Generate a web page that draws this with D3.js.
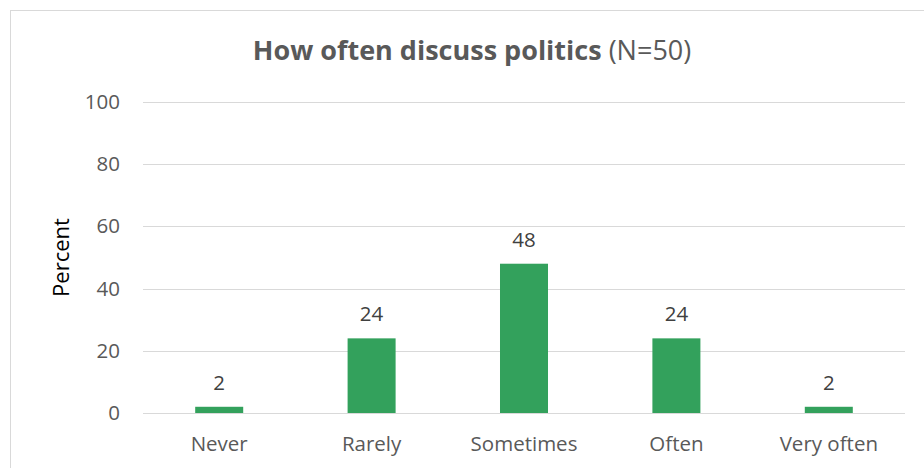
<!DOCTYPE html>
<html>
<head>
<meta charset="utf-8">
<script src="https://cdn.jsdelivr.net/npm/d3@7"></script>
<style>
  body { margin: 0; background: #fff; }
  text { font-family: "Open Sans", "Noto Sans", sans-serif; }
</style>
</head>
<body>
<script>
// chart data
const categories = ["Never", "Rarely", "Sometimes", "Often", "Very often"];
const percents   = [2, 24, 48, 24, 2];
const yTicks     = [0, 20, 40, 60, 80, 100];

const WIDTH = 924, HEIGHT = 468;
const margin = {top: 102, right: 19, bottom: 55, left: 143};
const width  = WIDTH - margin.left - margin.right;
const height = HEIGHT - margin.top - margin.bottom;

const svg = d3.select("body").append("svg")
    .attr("width", WIDTH)
    .attr("height", HEIGHT);

// outer chart border (cut at right/bottom like the reference)
svg.append("rect")
    .attr("x", 10.5).attr("y", 10.5)
    .attr("width", 930).attr("height", 480)
    .attr("fill", "none")
    .attr("stroke", "#d9d9d9");

const g = svg.append("g")
    .attr("transform", "translate(" + margin.left + "," + margin.top + ")");

const x = d3.scaleBand()
    .domain(categories)
    .range([0, width])
    .paddingInner(0.685)
    .paddingOuter(0.3425);

const y = d3.scaleLinear()
    .domain([0, 100])
    .range([height, 0]);

// gridlines
g.append("g")
    .selectAll("line")
    .data(yTicks)
    .enter().append("line")
    .attr("x1", 0).attr("x2", width)
    .attr("y1", d => Math.round(y(d)) + 0.5)
    .attr("y2", d => Math.round(y(d)) + 0.5)
    .attr("stroke", "#d9d9d9")
    .attr("stroke-width", 1.2);

// y axis labels
const yAxis = g.append("g")
    .attr("transform", "translate(-23,0)")
    .call(d3.axisLeft(y).tickValues(yTicks).tickSize(0).tickPadding(0));
yAxis.select(".domain").remove();
yAxis.selectAll("text")
    .attr("font-size", 20.5)
    .attr("fill", "#595959")
    .style("font-family", "'Open Sans', sans-serif");

// bars
g.selectAll(".bar")
    .data(percents)
    .enter().append("rect")
    .attr("class", "bar")
    .attr("x", (d, i) => x(categories[i]))
    .attr("y", d => y(d))
    .attr("width", x.bandwidth())
    .attr("height", d => y(0) - y(d))
    .attr("fill", "#33a15c");

// value labels
g.selectAll(".val")
    .data(percents)
    .enter().append("text")
    .attr("class", "val")
    .attr("x", (d, i) => x(categories[i]) + x.bandwidth() / 2)
    .attr("y", d => y(d) - 17)
    .attr("text-anchor", "middle")
    .attr("font-size", 20.5)
    .attr("fill", "#404040")
    .text(d => d);

// category axis
const xAxis = g.append("g")
    .attr("transform", "translate(0," + height + ")")
    .call(d3.axisBottom(x).tickSize(0).tickPadding(0));
xAxis.select(".domain").remove();
xAxis.selectAll("text")
    .attr("font-size", 20.5)
    .attr("fill", "#595959")
    .attr("y", 38)
    .attr("dy", 0)
    .style("font-family", "'Open Sans', sans-serif");

// y axis title
svg.append("text")
    .attr("transform", "translate(69," + (margin.top + height / 2) + ") rotate(-90)")
    .attr("text-anchor", "middle")
    .attr("font-size", 22)
    .attr("fill", "#000")
    .text("Percent");

// chart title
const title = svg.append("text")
    .attr("x", 472)
    .attr("y", 60)
    .attr("text-anchor", "middle")
    .attr("font-size", 27)
    .attr("fill", "#595959");
title.append("tspan").attr("font-weight", "bold").text("How often discuss politics");
title.append("tspan").text(" (N=50)");
</script>
</body>
</html>
